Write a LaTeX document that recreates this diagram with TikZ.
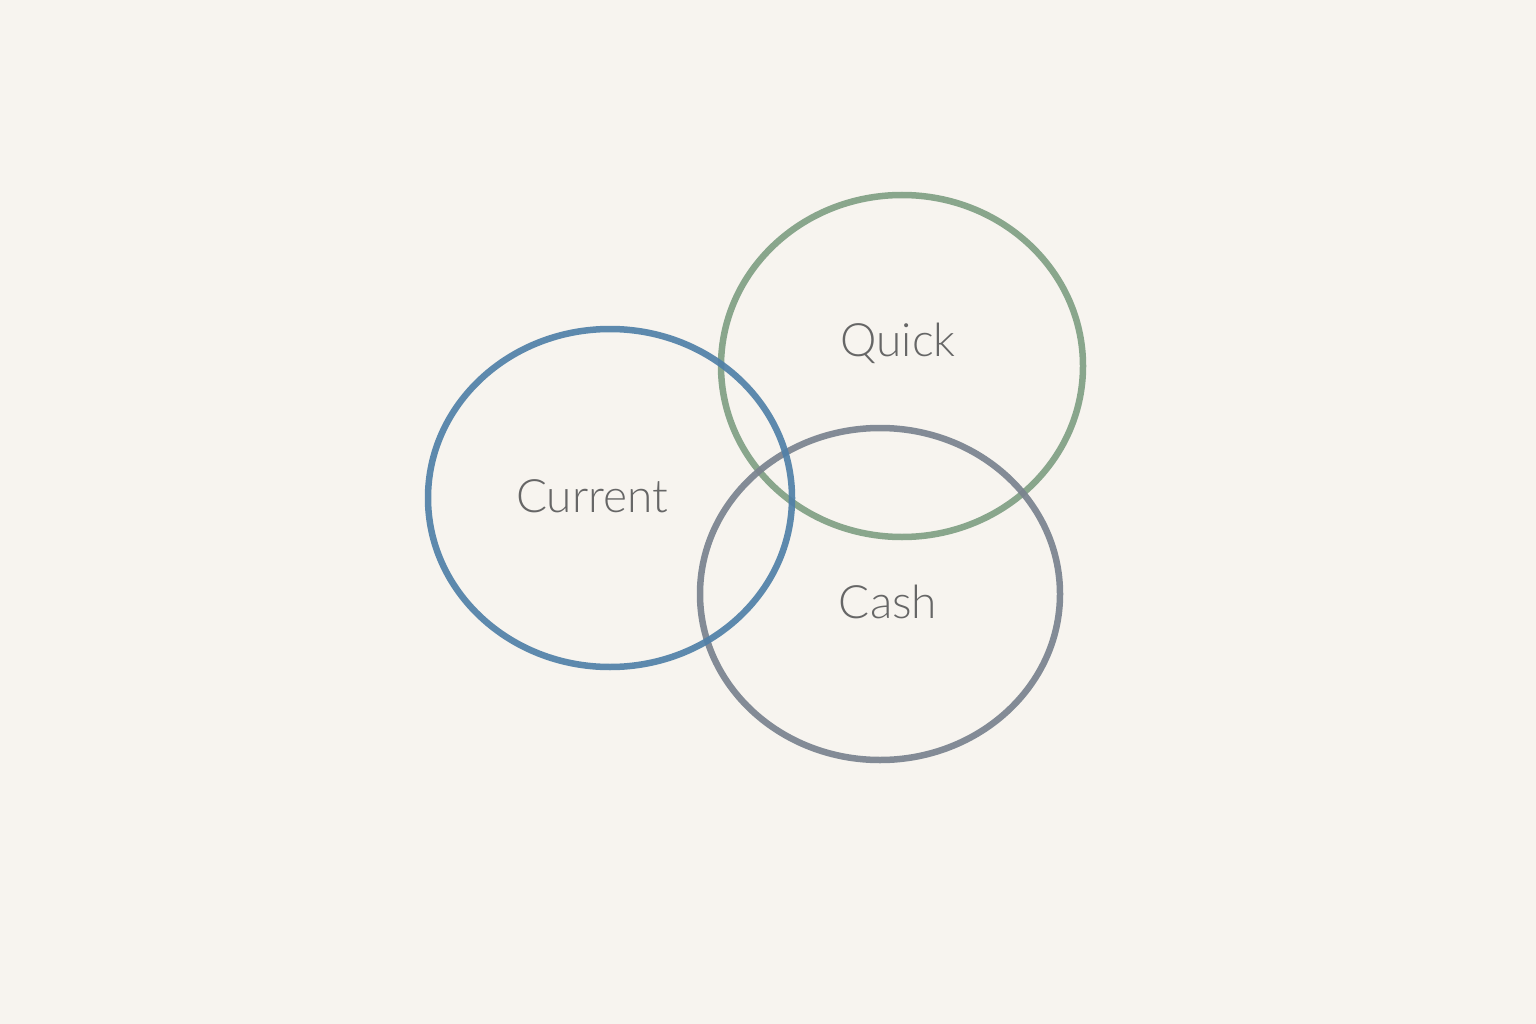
\documentclass[tikz,border=0pt]{standalone}
\usepackage{fontspec}
\setmainfont{Lato}[UprightFont=* Light]
\definecolor{bg}{HTML}{F7F4EF}
\definecolor{cblue}{HTML}{5080A8}
\definecolor{cgreen}{HTML}{80A084}
\definecolor{cgray}{HTML}{7A838F}
\definecolor{ctext}{HTML}{666666}
\tikzset{ring/.style={line width=6.5pt, draw opacity=0.92},
  lbl/.style={text=ctext, font=\fontsize{46}{50}\selectfont, inner sep=0pt}}
\begin{document}
\begin{tikzpicture}[x=1pt,y=-1pt]
\fill[bg] (0,0) rectangle (1536,1024);
\useasboundingbox (0,0) rectangle (1536,1024);
\draw[ring, cgreen] (902,366) ellipse [x radius=181, y radius=171];
\draw[ring, cgray] (880,594) ellipse [x radius=180, y radius=166];
\draw[ring, cblue] (610,498) ellipse [x radius=182, y radius=169];
\node[lbl] (cur) at (592,496) {Current};
\node[lbl] (qui) at (898,343) {Quick};
\node[lbl] (cas) at (888,602) {Cash};
\end{tikzpicture}
\end{document}
